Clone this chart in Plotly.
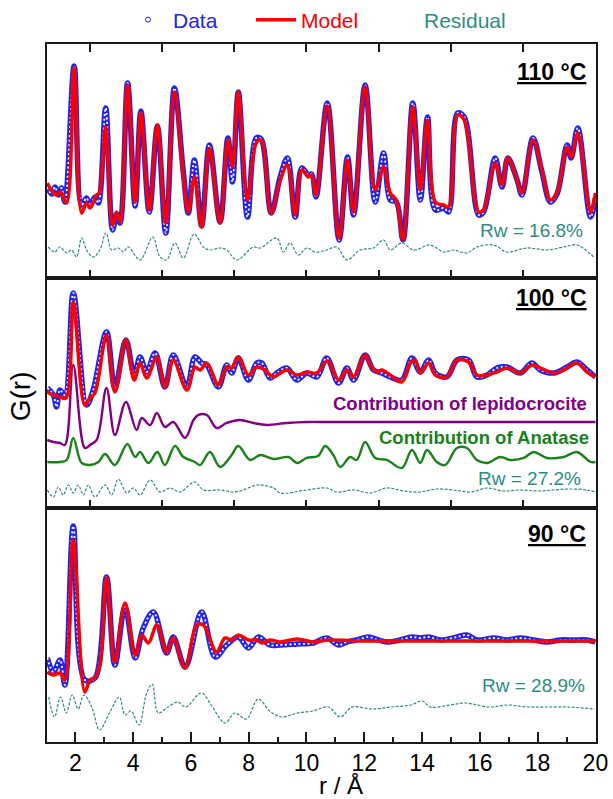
import plotly.graph_objects as go

# ---------------- data (r in Å, G(r) in arbitrary units) ----------------
# Panel 110 °C
r110_model = [1.03,1.24,1.35,1.49,1.70,1.96,2.22,2.39,2.51,2.74,2.83,3.05,3.29,3.43,3.55,3.81,4.07,4.27,4.56,4.84,
              5.13,5.43,5.74,5.91,6.12,6.37,6.64,7.01,7.28,7.44,7.64,7.96,8.26,8.43,8.78,9.09,9.34,9.61,9.84,10.07,
              10.18,10.33,10.72,11.13,11.42,11.63,12.03,12.38,12.67,12.90,13.11,13.34,13.68,13.94,14.19,14.46,14.75,14.92,15.23,15.46,
              15.96,16.13,16.53,16.77,16.97,17.29,17.46,17.84,18.15,18.44,18.67,19.02,19.16,19.39,19.83,20.0]
g110_model = [95,85,83,86,75,210,65,75,70,83,85,151,53,66,56,193,76,165,68,153,
              55,186,101,66,101,51,130,55,138,111,186,78,135,138,65,98,113,63,108,101,
              103,83,172,40,118,66,191,88,111,85,78,38,171,88,158,76,73,71,163,158,
              66,68,115,93,120,98,85,138,108,78,85,131,121,145,66,85]
r110_data = [1.03,1.18,1.30,1.41,1.52,1.64,1.96,2.22,2.39,2.51,2.68,2.80,3.05,3.29,3.43,3.55,3.81,4.07,4.27,4.56,
             4.84,5.13,5.43,5.74,5.91,6.12,6.37,6.64,7.01,7.28,7.44,7.64,7.96,8.26,8.43,8.78,9.09,9.34,9.61,9.84,
             10.07,10.18,10.33,10.72,11.13,11.42,11.63,12.03,12.38,12.67,12.90,13.11,13.34,13.68,13.94,14.19,14.46,14.75,14.92,15.23,
             15.46,15.96,16.13,16.53,16.77,16.97,17.29,17.46,17.84,18.15,18.44,18.67,19.02,19.16,19.39,19.83,20.0]
g110_data = [91,84,91,83,90,76,212,73,80,72,81,75,170,48,64,55,195,72,167,66,
             152,45,190,105,65,118,52,133,56,140,96,186,61,140,139,65,101,120,61,110,
             103,104,81,175,38,121,63,193,76,125,78,76,38,175,78,161,68,70,66,165,
             161,63,66,120,91,120,98,83,140,106,76,84,133,120,150,61,80]
r110_resid = [1.06,1.29,1.47,1.70,1.87,2.04,2.22,2.39,2.62,2.85,3.06,3.26,3.49,3.66,3.83,4.24,4.68,4.93,5.16,5.45,
              5.74,6.11,6.43,6.66,7.01,7.24,7.59,8.16,8.40,8.97,9.20,9.43,9.72,10.01,10.30,10.70,11.05,11.40,11.86,12.32,
              12.67,12.90,13.30,13.71,14.28,14.75,15.09,15.55,15.90,16.48,16.94,17.63,18.32,18.90,19.36,19.94]
g110_resid = [31,26,31,25,28,21,40,28,21,28,45,28,30,26,31,18,41,21,18,35,
              20,44,31,28,30,28,18,31,30,40,26,35,23,30,26,28,31,18,28,30,
              38,28,35,28,33,26,28,25,31,33,26,30,28,31,33,21]

# Panel 100 °C
r100_model = [1.03,1.24,1.47,1.68,1.93,2.33,2.51,2.68,3.08,3.37,3.75,4.04,4.24,4.47,4.82,5.10,5.39,5.86,6.14,6.32,
              6.55,6.95,7.24,7.41,7.64,7.99,8.28,8.57,8.74,8.86,9.32,9.67,10.01,10.36,10.72,11.11,11.40,11.63,12.03,12.21,
              12.44,12.61,12.90,13.30,13.59,13.76,13.94,14.23,14.46,14.86,15.21,15.61,15.90,16.25,16.59,16.94,17.40,17.80,18.09,18.56,
              18.90,19.36,19.71,20.0]
g100_model = [116,113,111,110,206,103,110,115,173,116,168,128,145,130,151,121,148,118,141,138,
              145,123,141,140,151,133,141,138,133,131,138,133,136,135,147,128,138,131,153,143,
              136,138,133,126,145,148,135,145,133,131,148,146,133,133,136,140,135,143,140,135,
              138,145,136,131]
r100_data = [1.03,1.24,1.35,1.47,1.64,1.93,2.39,2.62,3.08,3.37,3.75,4.04,4.24,4.47,4.76,5.10,5.39,5.86,6.14,6.37,
             6.55,6.95,7.24,7.41,7.64,7.99,8.28,8.45,8.74,8.97,9.32,9.67,10.01,10.36,10.70,11.11,11.40,11.63,12.03,12.32,
             12.61,12.90,13.30,13.65,13.94,14.23,14.46,14.86,15.21,15.61,15.90,16.25,16.59,16.94,17.40,17.80,18.09,18.56,19.02,19.36,
             19.71,20.0]
g100_data = [120,113,101,118,113,215,103,118,176,120,168,133,151,136,155,121,153,121,151,145,
             143,121,143,135,150,128,145,145,130,135,140,128,135,131,150,125,140,128,153,138,
             135,131,128,150,136,148,135,131,148,148,131,133,140,141,135,145,138,135,141,146,
             138,131]
r100_lepido = [1.03,1.24,1.47,1.64,1.93,2.33,2.51,2.74,3.08,3.37,3.75,4.12,4.30,4.59,4.82,5.10,5.39,5.80,6.09,6.26,
               6.55,6.89,7.24,7.70,8.16,8.63,9.32,10.01,10.76,12.0,14.0,16.0,18.0,20.0]
g100_lepido = [68,66,65,63,143,60,63,68,120,73,106,78,90,83,95,81,86,70,88,93,
               93,80,85,88,85,83,85,86,86,86,86,86,86,86]
r100_anatase = [1.03,1.47,1.70,1.93,2.22,2.51,2.80,3.03,3.37,3.80,4.07,4.24,4.53,4.84,5.10,5.45,5.74,6.14,6.32,6.66,
                7.01,7.41,7.64,8.05,8.40,8.86,9.38,9.67,10.01,10.40,10.65,10.93,11.17,11.51,11.74,12.03,12.38,12.78,13.30,13.65,
                13.94,14.17,14.51,14.80,15.21,15.55,15.90,16.25,16.71,17.05,17.52,17.86,18.32,18.90,19.36,19.83,20.0]
g100_anatase = [46,46,48,70,45,43,46,54,43,64,51,56,45,56,43,62,51,46,43,56,
                41,53,62,48,53,49,51,45,50,52,62,53,41,51,48,66,50,48,40,58,
                45,58,46,43,60,60,48,45,51,48,50,56,50,51,56,46,46]
r100_resid = [1.03,1.24,1.41,1.58,1.76,1.93,2.10,2.28,2.45,2.68,3.03,3.26,3.49,3.78,4.01,4.24,4.59,4.93,5.28,5.62,
              6.14,6.43,7.01,7.47,7.82,8.28,8.86,9.09,10.01,10.70,11.05,11.63,12.21,12.78,13.36,13.94,14.5,15.09,15.7,16.25,
              16.8,17.40,18.0,18.56,19.1,19.71,20.0]
g100_resid = [18,11,21,13,23,15,23,13,23,11,23,13,29,15,20,13,28,16,20,16,
              26,18,18,16,18,23,20,15,18,20,16,18,15,20,17,16,19,18,16,20,
              17,18,17,18,19,18,16]

# Panel 90 °C
r90_model = [1.03,1.24,1.47,1.64,1.93,2.33,2.51,2.68,2.85,3.08,3.37,3.72,4.07,4.30,4.53,4.82,5.16,5.39,5.80,6.20,
             6.43,6.89,7.18,7.41,7.64,7.99,8.28,8.45,8.74,9.09,9.67,10.24,10.76,12.0,14.0,16.0,18.0,20.0]
g90_model = [76,73,75,68,208,56,68,70,83,170,86,145,93,113,105,123,96,110,80,123,
             123,96,110,108,113,108,108,105,108,106,109,106,108,107,107,107,107,107]
r90_data = [1.03,1.24,1.47,1.64,1.93,2.33,2.68,3.08,3.37,3.72,4.07,4.35,4.70,5.16,5.39,5.80,6.37,6.84,7.24,7.64,
            7.99,8.34,8.74,9.09,9.67,10.24,10.70,11.11,11.40,11.74,12.15,12.49,12.84,13.24,13.65,13.94,14.23,14.63,15.21,15.55,
            15.90,16.48,16.94,17.40,17.86,18.32,18.79,19.25,19.71,20.0]
g90_data = [90,76,88,63,222,68,70,171,83,141,90,120,136,95,111,81,136,91,103,111,
            100,111,103,103,104,105,110,103,106,108,111,108,106,108,111,110,111,108,111,113,
            108,110,108,110,108,106,108,108,108,106]
r90_resid = [1.08,1.28,1.49,1.69,1.89,2.10,2.30,2.57,2.84,3.18,3.52,3.72,3.93,4.20,4.47,4.66,4.87,5.21,5.55,5.82,
             6.36,6.70,7.18,7.52,7.92,8.33,8.73,9.14,9.68,10.22,10.76,11.17,11.58,12.25,12.93,13.61,14.01,14.28,14.96,15.50,
             16.32,16.99,17.67,18.35,19.02,19.97]
g90_resid = [51,31,51,35,53,39,53,41,18,35,51,33,37,23,55,64,35,41,46,41,
             55,43,25,35,29,49,37,31,35,37,41,31,41,39,41,43,47,41,43,45,
             41,43,41,41,41,39]

labels_temp = ["110 °C", "100 °C", "90 °C"]
labels_rw = ["Rw = 16.8%", "Rw = 27.2%", "Rw = 28.9%"]

# ---------------- styling ----------------
FONT = "Liberation Sans, Arial, sans-serif"
BLUE = "rgb(35,35,235)"
RED = "rgb(250,0,0)"
TEAL = "rgb(45,140,130)"
PURPLE = "rgb(130,0,130)"
GREEN = "rgb(25,130,25)"
AXC = "#1a1a1a"

fig = go.Figure()

def add_data(r, g, xa, ya):
    fig.add_trace(go.Scatter(x=r, y=g, mode="lines", xaxis=xa, yaxis=ya, showlegend=False,
                             hoverinfo="skip", line=dict(color=BLUE, width=5.5, shape="spline")))
    fig.add_trace(go.Scatter(x=r, y=g, mode="lines", xaxis=xa, yaxis=ya, showlegend=False,
                             hoverinfo="skip", line=dict(color="white", width=1.8, shape="spline",
                                                         dash="2px,2.5px")))

def add_line(r, g, xa, ya, color, width, dash="solid"):
    fig.add_trace(go.Scatter(x=r, y=g, mode="lines", xaxis=xa, yaxis=ya, showlegend=False,
                             hoverinfo="skip", line=dict(color=color, width=width, shape="spline", dash=dash)))

RES_DASH = "3px,1.5px"
# top panel
add_line(r110_resid, g110_resid, "x", "y", TEAL, 1.2, RES_DASH)
add_data(r110_data, g110_data, "x", "y")
add_line(r110_model, g110_model, "x", "y", RED, 3.5)
# middle panel
add_line(r100_resid, g100_resid, "x2", "y2", TEAL, 1.2, RES_DASH)
add_line(r100_lepido, g100_lepido, "x2", "y2", PURPLE, 2.4)
add_line(r100_anatase, g100_anatase, "x2", "y2", GREEN, 2.4)
add_data(r100_data, g100_data, "x2", "y2")
add_line(r100_model, g100_model, "x2", "y2", RED, 3.5)
# bottom panel
add_line(r90_resid, g90_resid, "x3", "y3", TEAL, 1.2, RES_DASH)
add_data(r90_data, g90_data, "x3", "y3")
add_line(r90_model, g90_model, "x3", "y3", RED, 3.5)

# legend entries (separate legends for exact placement)
fig.add_trace(go.Scatter(x=[None], y=[None], mode="markers", name="Data", legend="legend",
                         marker=dict(symbol="circle-open", size=5, color=BLUE, line=dict(width=1))))
fig.add_trace(go.Scatter(x=[None], y=[None], mode="lines", name="Model", legend="legend2",
                         line=dict(color=RED, width=3.5)))
fig.add_trace(go.Scatter(x=[None], y=[None], mode="lines", name="Residual", legend="legend3",
                         line=dict(color="rgba(0,0,0,0)", width=1)))

def leg(x, color):
    return dict(x=x, y=1.0344, xanchor="left", yanchor="middle", orientation="h",
                itemwidth=40, bgcolor="rgba(0,0,0,0)",
                font=dict(family=FONT, size=21, color=color))

XR = [1.02, 20.02]
common_x = dict(range=XR, showline=True, linecolor=AXC, linewidth=1.6, showgrid=False,
                zeroline=False, ticks="inside", tickcolor=AXC, tickwidth=1.6)
common_y = dict(showline=True, linecolor=AXC, linewidth=1.6, mirror=True, showgrid=False,
                zeroline=False, ticks="", showticklabels=False)

D1, D2 = 0.3357, 0.6652
fig.update_layout(
    width=613, height=799,
    margin=dict(l=47, r=17, t=44, b=57, autoexpand=False),
    paper_bgcolor="white", plot_bgcolor="white",
    font=dict(family=FONT, color="black"),
    legend=leg(0.1384, BLUE),
    legend2=leg(0.3716, RED),
    legend3=leg(0.5956, TEAL),
    xaxis=dict(common_x, domain=[0, 1], anchor="y", ticklen=8, tick0=2.5, dtick=2.5,
               showticklabels=False, mirror="ticks"),
    xaxis2=dict(common_x, domain=[0, 1], anchor="y2", ticklen=8, tick0=2.5, dtick=2.5,
                showticklabels=False, mirror=True),
    xaxis3=dict(common_x, domain=[0, 1], anchor="y3", ticklen=10, tick0=0, dtick=2,
                showticklabels=True, mirror=True,
                tickfont=dict(family=FONT, size=23, color="black"),
                minor=dict(ticks="inside", ticklen=5, dtick=1, tickcolor=AXC, tickwidth=1.6)),
    yaxis=dict(common_y, domain=[D2, 1], anchor="x", range=[0.3, 234]),
    yaxis2=dict(common_y, domain=[D1, D2], anchor="x2", range=[0.3, 230.3]),
    yaxis3=dict(common_y, domain=[0, D1], anchor="x3", range=[6, 240.3]),
)

ann = []
temp_pos = [("x domain", "y domain", 0.985, 0.880),
            ("x2 domain", "y2 domain", 0.987, 0.912),
            ("x3 domain", "y3 domain", 0.985, 0.888)]
rw_pos = [("x domain", "y domain", 0.980, 0.204),
          ("x2 domain", "y2 domain", 0.976, 0.129),
          ("x3 domain", "y3 domain", 0.984, 0.239)]
for (xr, yr, x, y), t in zip(temp_pos, labels_temp):
    ann.append(dict(xref=xr, yref=yr, x=x, y=y, xanchor="right", yanchor="middle", showarrow=False,
                    text=f"<b><u>{t}</u></b>", font=dict(family=FONT, size=23, color="black")))
for (xr, yr, x, y), t in zip(rw_pos, labels_rw):
    ann.append(dict(xref=xr, yref=yr, x=x, y=y, xanchor="right", yanchor="middle", showarrow=False,
                    text=t, font=dict(family=FONT, size=19, color=TEAL)))
ann.append(dict(xref="x2 domain", yref="y2 domain", x=0.987, y=0.455, xanchor="right", yanchor="middle",
                showarrow=False, text="<b>Contribution of lepidocrocite</b>",
                font=dict(family=FONT, size=18.5, color=PURPLE)))
ann.append(dict(xref="x2 domain", yref="y2 domain", x=0.991, y=0.307, xanchor="right", yanchor="middle",
                showarrow=False, text="<b>Contribution of Anatase</b>",
                font=dict(family=FONT, size=18.5, color=GREEN)))
ann.append(dict(xref="paper", yref="paper", x=0.5355, y=-0.0630, xanchor="center", yanchor="middle",
                showarrow=False, borderpad=0, text="r / Å", font=dict(family=FONT, size=24, color="black")))
ann.append(dict(xref="paper", yref="paper", x=-0.0477, y=0.495, xanchor="center", yanchor="middle",
                showarrow=False, text="G(r)", textangle=-90, font=dict(family=FONT, size=28, color="black")))
fig.update_layout(annotations=ann)

fig.write_html("out.html")
